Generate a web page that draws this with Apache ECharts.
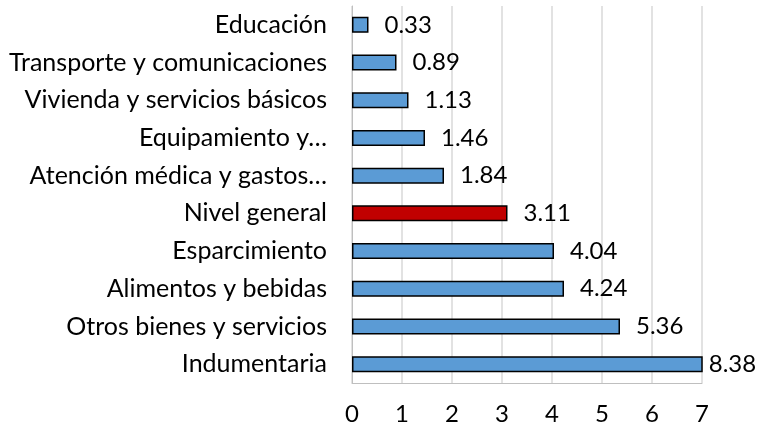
<!DOCTYPE html>
<html>
<head>
<meta charset="utf-8">
<script src="https://cdn.jsdelivr.net/npm/echarts@6/dist/echarts.min.js"></script>
<style>
  html, body { margin: 0; padding: 0; background: #fff; }
  #chart { width: 758px; height: 427px; }
</style>
</head>
<body>
<div id="chart"></div>
<script>
const categories = [
  'Educación',
  'Transporte y comunicaciones',
  'Vivienda y servicios básicos',
  'Equipamiento y…',
  'Atención médica y gastos…',
  'Nivel general',
  'Esparcimiento',
  'Alimentos y bebidas',
  'Otros bienes y servicios',
  'Indumentaria'
];
const values = [0.33, 0.89, 1.13, 1.46, 1.84, 3.11, 4.04, 4.24, 5.36, 8.38];
const xTicks = [0, 1, 2, 3, 4, 5, 6, 7];

const blue = '#5B9BD5';
const red = '#C00000';
const font = 'Lato, "Open Sans", sans-serif';

const chart = echarts.init(document.getElementById('chart'));

const option = {
  animation: false,
  grid: { left: 352, right: 56, top: 6, bottom: 44 },
  xAxis: {
    type: 'value',
    min: xTicks[0],
    max: xTicks[xTicks.length - 1],
    interval: 1,
    axisLine: { show: true, lineStyle: { color: '#BFBFBF', width: 1 } },
    axisTick: { show: false },
    axisLabel: { color: '#000', fontSize: 24, fontFamily: font, margin: 19 },
    splitLine: { show: true, lineStyle: { color: '#D9D9D9', width: 1.5 } }
  },
  yAxis: {
    type: 'category',
    inverse: true,
    data: categories,
    axisLine: { show: true, lineStyle: { color: '#BFBFBF', width: 1 } },
    axisTick: { show: false },
    axisLabel: { color: '#000', fontSize: 25, fontFamily: font, margin: 25 }
  },
  series: [{
    type: 'bar',
    barWidth: 16,
    clip: true,
    data: values.map((v, i) => ({
      value: v,
      itemStyle: { color: categories[i] === 'Nivel general' ? red : blue },
      label: { distance: v > xTicks[xTicks.length - 1] ? 6 : 16 }
    })),
    itemStyle: { borderColor: '#000', borderWidth: 1.5 },
    label: {
      show: true,
      position: 'right',
      color: '#000',
      fontSize: 24,
      fontFamily: font,
      formatter: p => p.value.toFixed(2)
    }
  }]
};

chart.setOption(option);
</script>
</body>
</html>
